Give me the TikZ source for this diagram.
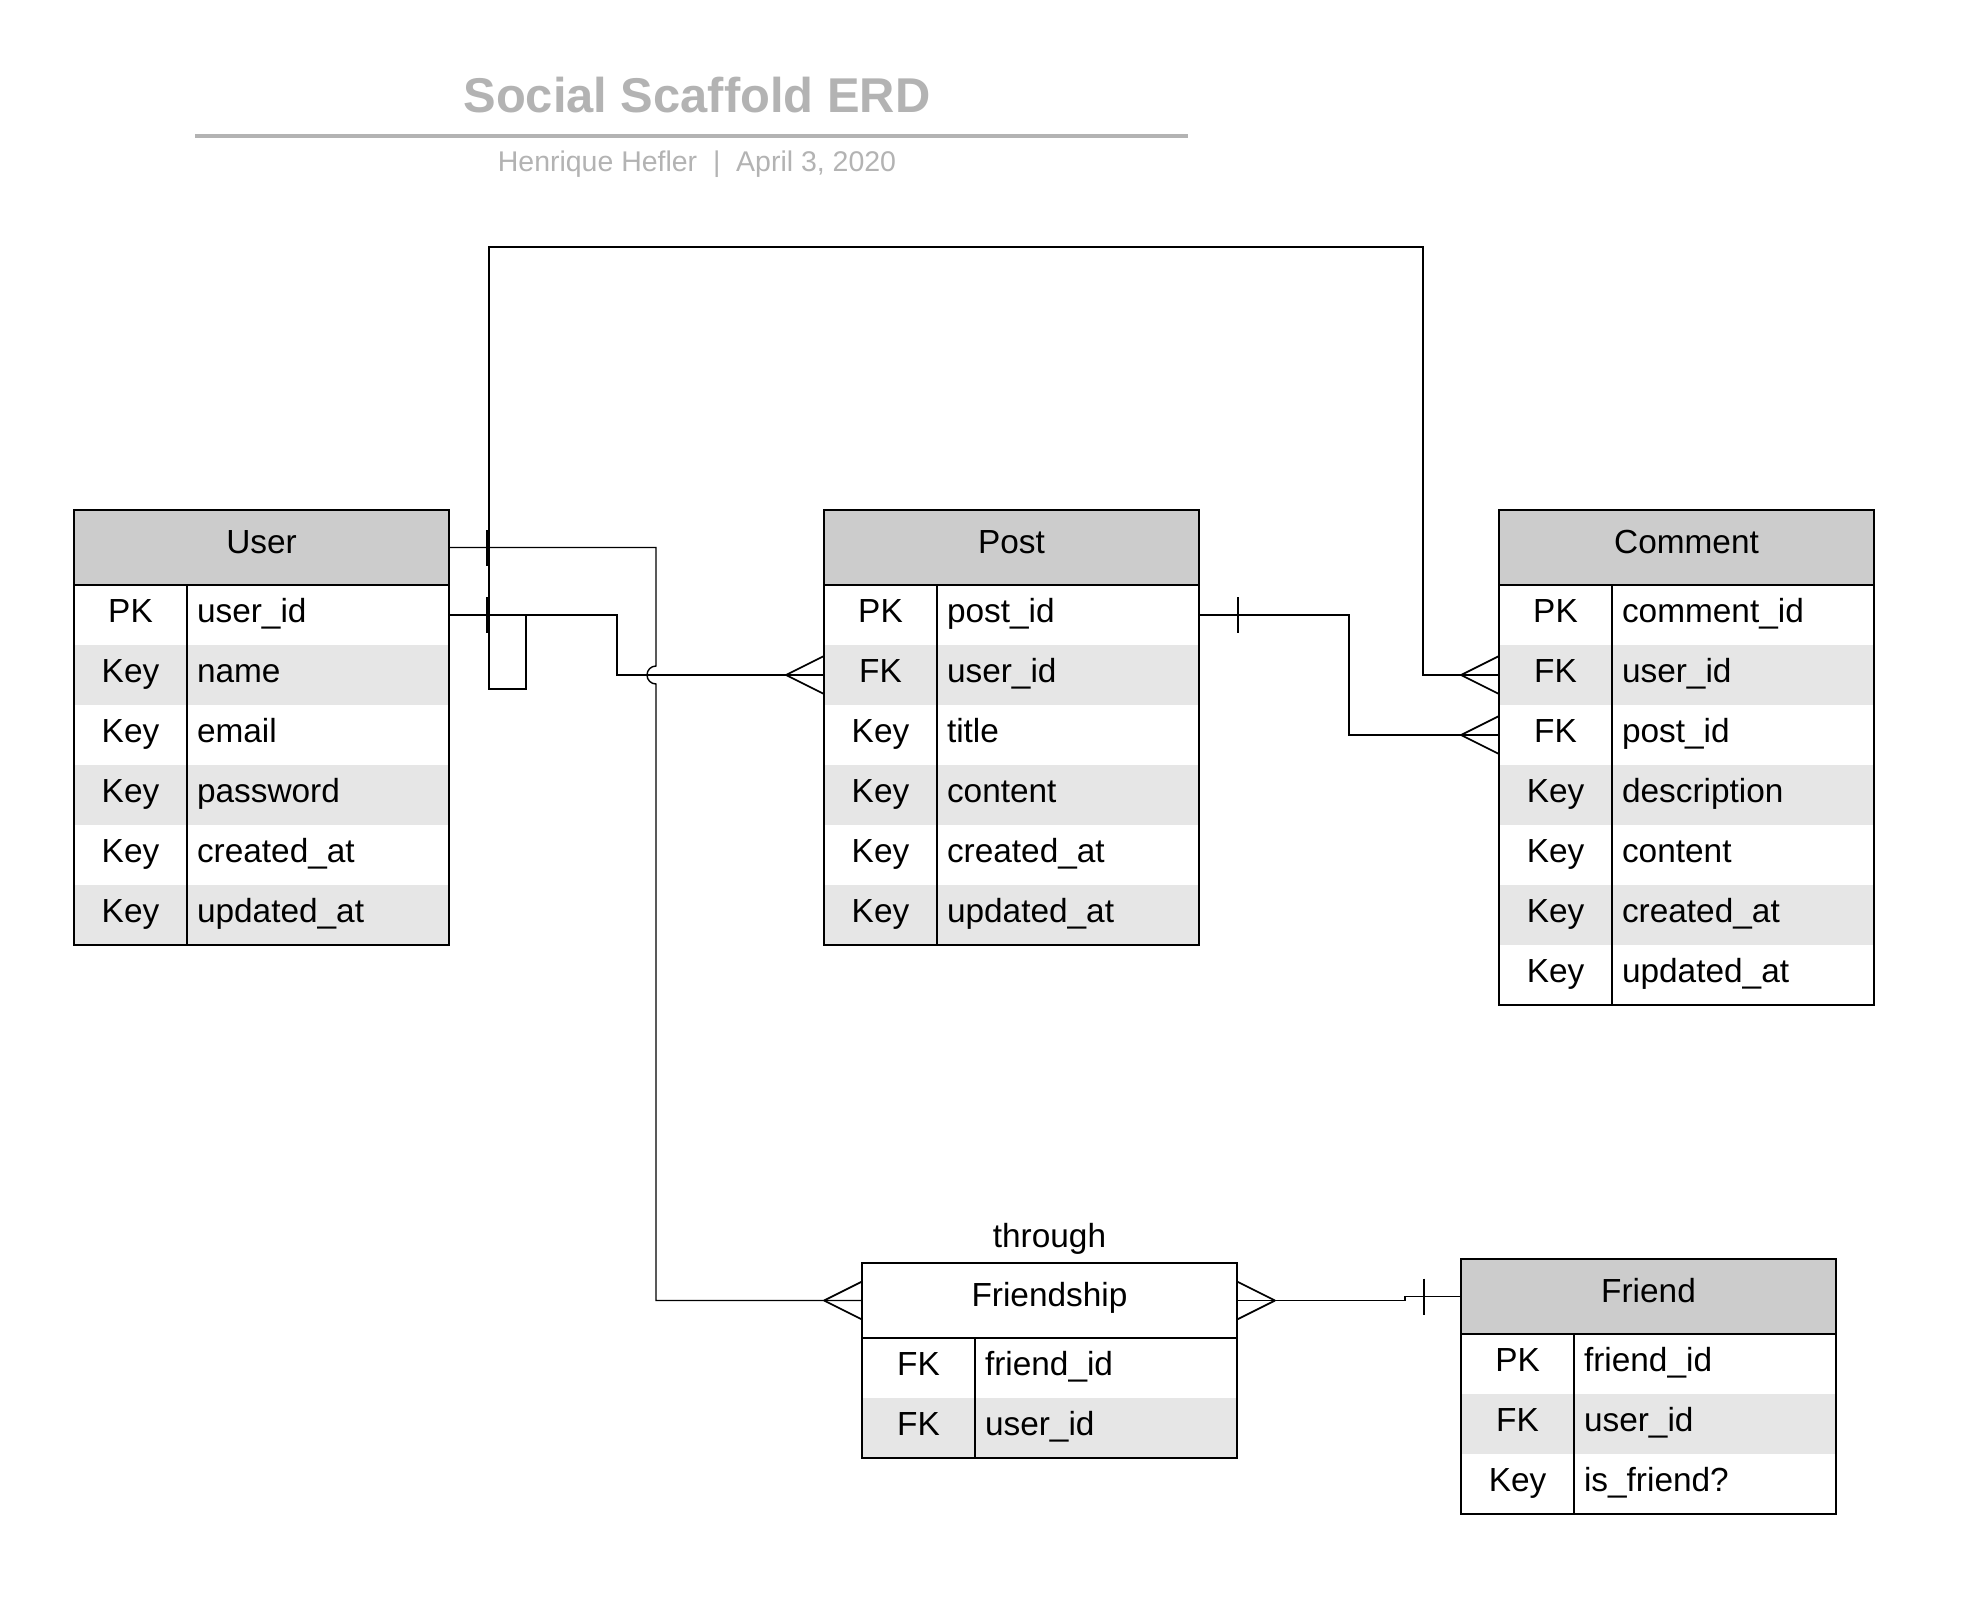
\documentclass[tikz,border=0pt]{standalone}
\usepackage{fontspec}
\setmainfont{Liberation Sans}
\usetikzlibrary{calc}

\definecolor{headgray}{HTML}{CCCCCC}
\definecolor{rowgray}{HTML}{E6E6E6}
\definecolor{titlegray}{HTML}{B3B3B3}

\tikzset{
    erdfont/.style={font=\fontsize{19}{23}\selectfont},
    erdhead/.style={erdfont, minimum width=7.5cm, minimum height=1.5cm, inner sep=0pt, outer sep=0pt, text height=0.47cm, text depth=0.25cm},
    keycell/.style={erdfont, minimum width=2.26cm, minimum height=1.2cm, inner sep=0pt, outer sep=0pt, text height=0.47cm, text depth=0.19cm},
    fieldcell/.style={erdfont, minimum height=1.2cm, inner xsep=0.2cm, inner ysep=0pt, outer sep=0pt, text width=4.84cm, align=left, text height=0.47cm, text depth=0.19cm},
    shade0/.style={fill=rowgray},
    shade1/.style={fill=white},
    erdborder/.style={line width=0.9pt},
    link/.style={line width=0.8pt},
    crowfoot/.style={line width=1pt},
    onebar/.style={line width=1.9pt},
    thinbar/.style={line width=1.2pt}
}

\newcommand{\erdtable}[6]{%
    \node[erdhead, anchor=north west, fill=#4] (#1) at (#2) {#3};
    \foreach \kind/\field [count=\i] in {#6} {
        \pgfmathtruncatemacro\rowpar{mod(\i,2)}
        \node[keycell, shade\rowpar, anchor=north west] (#1-k\i) at ([yshift={-1.2cm*(\i-1)}]#1.south west) {\kind};
        \node[fieldcell, shade\rowpar, anchor=north west] (#1-f\i) at (#1-k\i.north east) {\field};
    }
    \draw[erdborder] (#1.north west) rectangle (#1-f#5.south east);
    \draw[erdborder] (#1-k1.north east) -- (#1-k#5.south east);
    \draw[line width=1.2pt] (#1.south west) -- (#1.south east);
}
\newcommand{\onebar}[3][onebar]{\draw[#1] ([xshift=#3cm]#2) ++(0,0.36) -- ++(0,-0.72);}
\newcommand{\manyend}[2]{\draw[crowfoot] ([xshift=#2*0.76cm]#1) -- ([yshift=0.38cm]#1) ([xshift=#2*0.76cm]#1) -- ([yshift=-0.38cm]#1);}

\begin{document}
\begin{tikzpicture}
    \useasboundingbox[fill=white] (0,0) rectangle (39.46,-32.44);

    \node[font=\fontsize{27.8}{33}\selectfont\bfseries, text=titlegray] (title) at (13.94,-1.9) {Social Scaffold ERD};
    \draw[titlegray, line width=2pt] (3.9,-2.72) -- (23.76,-2.72);
    \node[font=\fontsize{16.2}{20}\selectfont, text=titlegray] (byline) at (13.94,-3.29) {Henrique Hefler~~|~~April 3, 2020};

    \erdtable{user}{1.48,-10.2}{User}{headgray}{6}{PK/user\_id, Key/name, Key/email, Key/password, Key/created\_at, Key/updated\_at}
    \erdtable{post}{16.48,-10.2}{Post}{headgray}{6}{PK/post\_id, FK/user\_id, Key/title, Key/content, Key/created\_at, Key/updated\_at}
    \erdtable{comment}{29.98,-10.2}{Comment}{headgray}{7}{PK/comment\_id, FK/user\_id, FK/post\_id, Key/description, Key/content, Key/created\_at, Key/updated\_at}
    \erdtable{friendship}{17.24,-25.26}{Friendship}{white}{2}{FK/friend\_id, FK/user\_id}
    \erdtable{friend}{29.22,-25.18}{Friend}{headgray}{3}{PK/friend\_id, FK/user\_id, Key/is\_friend?}

    \node[erdfont] (through) at (20.99,-24.77) {through};

    \draw[link] (user.east) -- ++(4.14,0) coordinate (trunk)
        -- ($(trunk |- post-k2.west)+(0,0.18)$)
        arc[start angle=90, end angle=270, radius=0.18]
        -- (trunk |- friendship.west) -- (friendship.west);
    \onebar{user.east}{0.78}
    \manyend{friendship.west}{-1}

    \draw[link] (user-f1.east) -- ++(3.36,0) |- (post-k2.west);
    \onebar{user-f1.east}{0.78}
    \manyend{post-k2.west}{-1}

    \draw[link] (user-f1.east) -- ++(1.54,0) -- ++(0,-1.48) -- ++(-0.74,0) -- ++(0,8.84)
        -| ($(comment-k2.west)+(-1.52,0)$) -- (comment-k2.west);
    \manyend{comment-k2.west}{-1}

    \draw[link] (post-f1.east) -- ++(3,0) |- (comment-k3.west);
    \onebar[thinbar]{post-f1.east}{0.78}
    \manyend{comment-k3.west}{-1}

    \draw[link] (friendship.east) -- ++(3.36,0) |- (friend.west);
    \manyend{friendship.east}{1}
    \onebar[thinbar]{friend.west}{-0.74}
\end{tikzpicture}
\end{document}
